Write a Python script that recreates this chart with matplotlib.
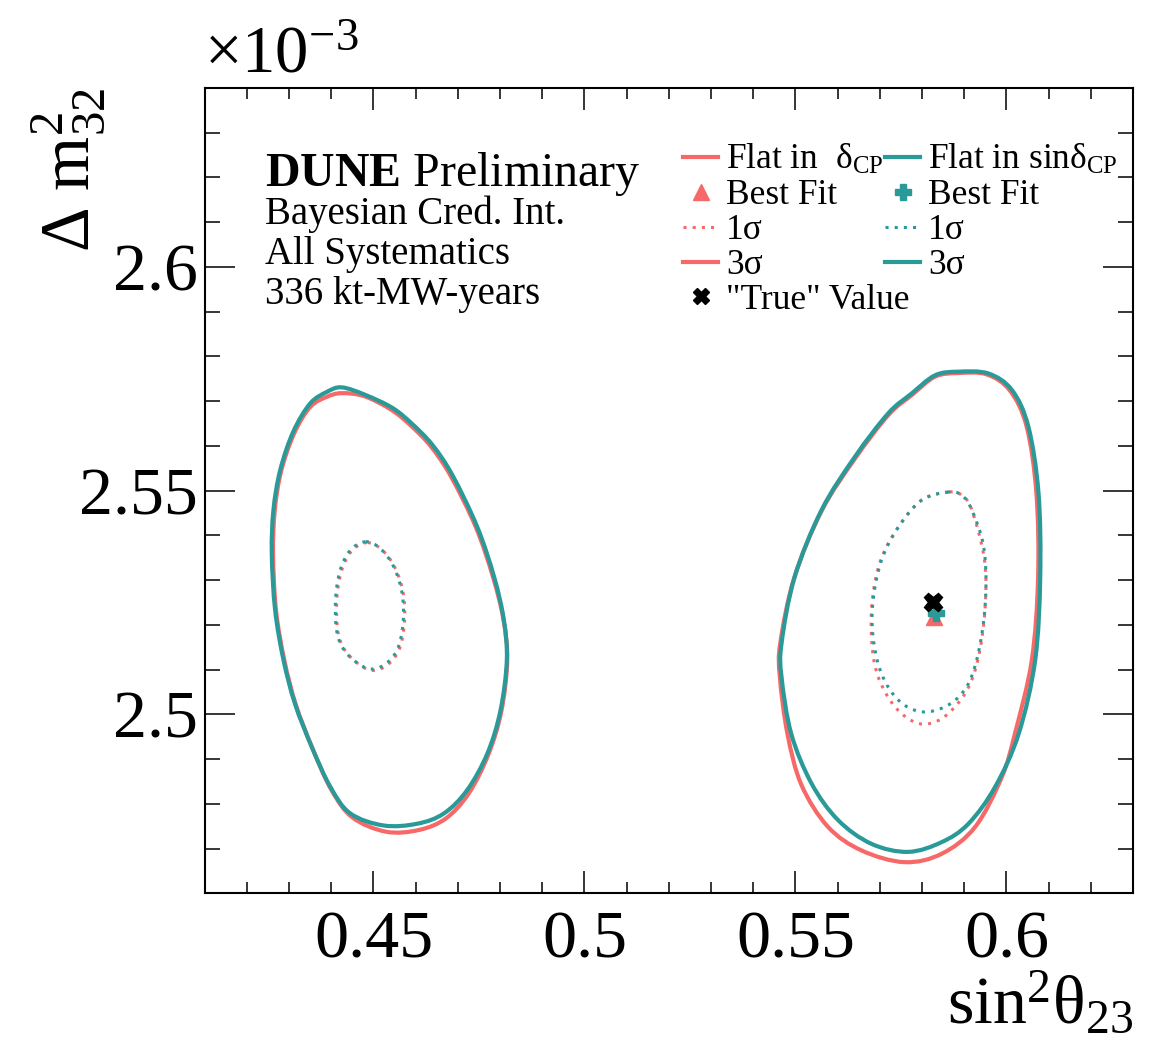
#Bayesian credible intervals in sin^2(theta23) - dm^2_32, two dCP priors

import numpy as np
import matplotlib
matplotlib.use("Agg")
import matplotlib.pyplot as plt
from matplotlib.lines import Line2D
from matplotlib.path import Path
from matplotlib.patches import PathPatch
from matplotlib.ticker import MultipleLocator, FixedLocator, FixedFormatter

plt.rcParams['font.family'] = ['Liberation Serif', 'DejaVu Serif']
plt.rcParams['mathtext.fontset'] = 'custom'
plt.rcParams['mathtext.rm'] = 'Liberation Serif'
plt.rcParams['mathtext.it'] = 'Liberation Serif:italic'
plt.rcParams['mathtext.bf'] = 'Liberation Serif:bold'

RED = '#f76868'
TEAL = '#2a9a98'

# --- 3 sigma, lower octant -------------------------------------------------
lo3_flat_x = [0.4425, 0.4390, 0.4350, 0.4312, 0.4281, 0.4266, 0.4262, 0.4269,
              0.4289, 0.4316, 0.4356, 0.4400, 0.4450, 0.4530, 0.4608, 0.4672,
              0.4726, 0.4772, 0.4803, 0.4817, 0.4808, 0.4783, 0.4742, 0.4683,
              0.4636, 0.4588, 0.4542, 0.4479]
lo3_flat_y = [2.5718, 2.5710, 2.5687, 2.5628, 2.5543, 2.5455, 2.5360, 2.5233,
              2.5120, 2.5022, 2.4923, 2.4832, 2.4770, 2.4738, 2.4742, 2.4768,
              2.4824, 2.4910, 2.5007, 2.5121, 2.5212, 2.5308, 2.5420, 2.5533,
              2.5599, 2.5646, 2.5681, 2.5711]
lo3_sinp_x = [0.4425, 0.4390, 0.4350, 0.4310, 0.4279, 0.4263, 0.4259, 0.4267,
              0.4287, 0.4314, 0.4354, 0.4398, 0.4445, 0.4524, 0.4604, 0.4667,
              0.4722, 0.4770, 0.4801, 0.4816, 0.4809, 0.4786, 0.4746, 0.4687,
              0.4640, 0.4592, 0.4545, 0.4481]
lo3_sinp_y = [2.5731, 2.5721, 2.5695, 2.5632, 2.5546, 2.5457, 2.5360, 2.5233,
              2.5121, 2.5024, 2.4927, 2.4838, 2.4779, 2.4752, 2.4756, 2.4779,
              2.4831, 2.4913, 2.5009, 2.5121, 2.5211, 2.5307, 2.5419, 2.5535,
              2.5602, 2.5649, 2.5685, 2.5714]

# --- 1 sigma, lower octant -------------------------------------------------
lo1_flat_x = [0.4484, 0.4448, 0.4424, 0.4413, 0.4417, 0.4440, 0.4488, 0.4527,
              0.4559, 0.4573, 0.4571, 0.4551, 0.4519]
lo1_flat_y = [2.5384, 2.5365, 2.5320, 2.5253, 2.5179, 2.5134, 2.5100, 2.5107,
              2.5141, 2.5200, 2.5268, 2.5328, 2.5369]
lo1_sinp_x = [0.4481, 0.4445, 0.4421, 0.4410, 0.4414, 0.4437, 0.4485, 0.4524,
              0.4556, 0.4570, 0.4568, 0.4548, 0.4516]
lo1_sinp_y = [2.5386, 2.5367, 2.5322, 2.5255, 2.5181, 2.5136, 2.5103, 2.5110,
              2.5144, 2.5203, 2.5270, 2.5330, 2.5371]

# --- 3 sigma, upper octant -------------------------------------------------
hi3_flat_x = [0.5886, 0.5831, 0.5776, 0.5721, 0.5642, 0.5562, 0.5497, 0.5464,
              0.5463, 0.5481, 0.5514, 0.5577, 0.5657, 0.5759, 0.5847, 0.5926,
              0.5989, 0.6020, 0.6060, 0.6075, 0.6071, 0.6048, 0.6008, 0.5953]
hi3_flat_y = [2.5763, 2.5755, 2.5714, 2.5670, 2.5573, 2.5455, 2.5305, 2.5159,
              2.5084, 2.4957, 2.4843, 2.4749, 2.4696, 2.4670, 2.4689, 2.4749,
              2.4860, 2.4957, 2.5121, 2.5307, 2.5494, 2.5643, 2.5724, 2.5760]
hi3_sinp_x = [0.5886, 0.5831, 0.5775, 0.5720, 0.5641, 0.5562, 0.5498, 0.5467,
              0.5467, 0.5490, 0.5538, 0.5601, 0.5680, 0.5767, 0.5847, 0.5910,
              0.5973, 0.6029, 0.6068, 0.6080, 0.6076, 0.6052, 0.6013, 0.5957]
hi3_sinp_y = [2.5766, 2.5758, 2.5717, 2.5673, 2.5576, 2.5457, 2.5307, 2.5159,
              2.5084, 2.4957, 2.4846, 2.4764, 2.4711, 2.4693, 2.4715, 2.4756,
              2.4838, 2.4957, 2.5121, 2.5307, 2.5494, 2.5643, 2.5725, 2.5762]

# --- 1 sigma, upper octant -------------------------------------------------
hi1_flat_x = [0.5862, 0.5799, 0.5744, 0.5702, 0.5682, 0.5681, 0.5696, 0.5736,
              0.5791, 0.5847, 0.5902, 0.5932, 0.5949, 0.5948, 0.5918, 0.5894]
hi1_flat_y = [2.5497, 2.5479, 2.5419, 2.5345, 2.5255, 2.5159, 2.5084, 2.5017,
              2.4980, 2.4991, 2.5047, 2.5121, 2.5233, 2.5345, 2.5457, 2.5490]
hi1_sinp_x = [0.5862, 0.5799, 0.5744, 0.5704, 0.5684, 0.5684, 0.5704, 0.5744,
              0.5799, 0.5862, 0.5910, 0.5938, 0.5951, 0.5946, 0.5918, 0.5894]
hi1_sinp_y = [2.5497, 2.5479, 2.5419, 2.5345, 2.5255, 2.5173, 2.5091, 2.5032,
              2.5006, 2.5021, 2.5069, 2.5159, 2.5270, 2.5375, 2.5457, 2.5490]

# best fits and true value
best_flat = (0.5829, 2.5217)
best_sinp = (0.5832, 2.5226)
true_val = (0.5825, 2.5252)

x_ticks = [0.45, 0.5, 0.55, 0.6]
x_labels = ['0.45', '0.5', '0.55', '0.6']
y_ticks = [2.5, 2.55, 2.6]
y_labels = ['2.5', '2.55', '2.6']


def smooth_contour(ax, xs, ys, **kw):
    """Closed curve drawn through the read points with Bezier segments."""
    p = np.column_stack([xs, ys])
    n = len(p)
    verts = [p[0]]
    codes = [Path.MOVETO]
    for i in range(n):
        p0, p1, p2, p3 = p[i - 1], p[i], p[(i + 1) % n], p[(i + 2) % n]
        verts += [p1 + (p2 - p0) / 6.0, p2 - (p3 - p1) / 6.0, p2]
        codes += [Path.CURVE4] * 3
    ax.add_patch(PathPatch(Path(verts, codes), fill=False, **kw))


fig = plt.figure(figsize=(11.57, 10.46), dpi=100)
ax = fig.add_axes([0.1769, 0.1458, 0.8024, 0.7701])

solid = dict(lw=3.0, joinstyle='round')
dots = dict(lw=2.2, linestyle=(0, (1, 2)))

smooth_contour(ax, lo3_flat_x, lo3_flat_y, edgecolor=RED, **solid)
smooth_contour(ax, hi3_flat_x, hi3_flat_y, edgecolor=RED, **solid)
smooth_contour(ax, lo1_flat_x, lo1_flat_y, edgecolor=RED, **dots)
smooth_contour(ax, hi1_flat_x, hi1_flat_y, edgecolor=RED, **dots)

smooth_contour(ax, lo3_sinp_x, lo3_sinp_y, edgecolor=TEAL, **solid)
smooth_contour(ax, hi3_sinp_x, hi3_sinp_y, edgecolor=TEAL, **solid)
smooth_contour(ax, lo1_sinp_x, lo1_sinp_y, edgecolor=TEAL, **dots)
smooth_contour(ax, hi1_sinp_x, hi1_sinp_y, edgecolor=TEAL, **dots)

ax.plot(*best_flat, marker='^', ms=11, color=RED, ls='none', zorder=5)
ax.plot(*best_sinp, marker='P', ms=11, color=TEAL, ls='none', zorder=6)
ax.plot(*true_val, marker='X', ms=13, color='black', ls='none', zorder=7)

ax.set_xlim(0.41, 0.63)
ax.set_ylim(2.46, 2.64)

ax.xaxis.set_major_locator(FixedLocator(x_ticks))
ax.xaxis.set_major_formatter(FixedFormatter(x_labels))
ax.yaxis.set_major_locator(FixedLocator(y_ticks))
ax.yaxis.set_major_formatter(FixedFormatter(y_labels))
ax.xaxis.set_minor_locator(MultipleLocator(0.01))
ax.yaxis.set_minor_locator(MultipleLocator(0.01))

for s in ax.spines.values():
    s.set_linewidth(1.5)
ax.tick_params(which='both', direction='in', top=True, right=True, width=1.1)
ax.tick_params(axis='x', which='major', length=15.6, labelsize=49, pad=12)
ax.tick_params(axis='x', which='minor', length=7.7)
ax.tick_params(axis='y', which='major', length=21.6, labelsize=49, pad=5)
ax.tick_params(axis='y', which='minor', length=10.8)

ax.set_xlabel(r'$\mathrm{sin}^{2}\mathrm{\theta}_{23}$', fontsize=49, loc='right')
ax.xaxis.set_label_coords(1.0, -0.095)
ax.set_ylabel(r'$\Delta\ \mathrm{m}^{2}_{32}$', fontsize=50, loc='top')
ax.yaxis.set_label_coords(-0.105, 1.0)

fig.text(204 / 1157, 1 - 72 / 1046, r'×10$^{-3}$', fontsize=48, va='baseline')

# label block
fig.text(265 / 1157, 1 - 186 / 1046, r'$\mathbf{DUNE}$ Preliminary', fontsize=34.5,
         va='baseline')
fig.text(265 / 1157, 1 - 224 / 1046, 'Bayesian Cred. Int.', fontsize=28, va='baseline')
fig.text(265 / 1157, 1 - 264 / 1046, 'All Systematics', fontsize=28, va='baseline')
fig.text(265 / 1157, 1 - 304 / 1046, '336 kt-MW-years', fontsize=28, va='baseline')

# legend, two fixed columns like the ROOT TLegend
h_flat = [Line2D([], [], color=RED, lw=3),
          Line2D([], [], color=RED, marker='^', ms=11, ls='none'),
          Line2D([], [], color=RED, lw=2.2, ls=(0, (1, 2))),
          Line2D([], [], color=RED, lw=3),
          Line2D([], [], color='black', marker='X', ms=12, ls='none')]
l_flat = ['Flat in  δ$_{\\mathrm{CP}}$', 'Best Fit', '1σ', '3σ', '"True" Value']
h_sinp = [Line2D([], [], color=TEAL, lw=3),
          Line2D([], [], color=TEAL, marker='P', ms=11, ls='none'),
          Line2D([], [], color=TEAL, lw=2.2, ls=(0, (1, 2))),
          Line2D([], [], color=TEAL, lw=3)]
l_sinp = ['Flat in sinδ$_{\\mathrm{CP}}$', 'Best Fit', '1σ', '3σ']

leg_kw = dict(frameon=False, fontsize=25.5, loc='upper left', borderpad=0,
              borderaxespad=0, handlelength=1.0, handletextpad=0.22,
              labelspacing=0.055, bbox_transform=fig.transFigure)
leg1 = ax.legend(h_flat, l_flat, bbox_to_anchor=(683 / 1157, 1 - 143 / 1046), **leg_kw)
ax.add_artist(leg1)
ax.legend(h_sinp, l_sinp, bbox_to_anchor=(885 / 1157, 1 - 143 / 1046), **leg_kw)

fig.savefig('out.png', dpi=100)
